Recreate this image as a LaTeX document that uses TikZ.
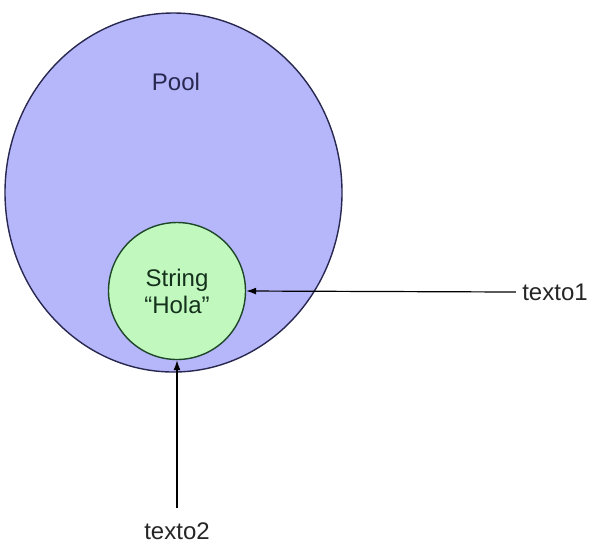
\documentclass[tikz,border=0pt]{standalone}
\usepackage{fontspec}
\setmainfont{Liberation Sans}
\usetikzlibrary{positioning}
\usetikzlibrary{arrows.meta}
\usetikzlibrary{shapes.geometric}
\definecolor{poolfill}{RGB}{182,182,250}
\definecolor{pooldraw}{RGB}{40,40,80}
\definecolor{strfill}{RGB}{192,248,190}
\definecolor{strdraw}{RGB}{30,70,40}

\begin{document}
\begin{tikzpicture}[
x=0.5pt, y=-0.5pt,
font=\fontsize{12}{13.5}\selectfont,
poolnode/.style={ellipse, draw=pooldraw, fill=poolfill, line width=0.7pt, minimum width=168.5pt, minimum height=179.5pt, inner sep=0pt},
roundnode/.style={circle, draw=strdraw, fill=strfill, line width=0.7pt, minimum size=68.5pt, inner sep=0pt, text=strdraw!70!black, align=center},
refnode/.style={text=black!85, inner sep=3pt},
]
\useasboundingbox (0,0) rectangle (592,543);
%Nodes
\node[poolnode] (pool) at (173.5,192.5) {};
\node[text=pooldraw] (poolname) at (176,82) {Pool};
\node[roundnode] (str) at (177,291) {String\\``Hola''};
\node[refnode] (texto1) at (555,292) {texto1};
\node[refnode, inner sep=7pt] (texto2) at (177,531) {texto2};

%Lines
\draw[-{Latex[length=5pt,width=3.5pt]}, line width=0.6pt] (texto1.west) -- (str.east);
\draw[-{Latex[length=5pt,width=3.5pt]}, line width=0.6pt] (texto2.north) -- (str.south);
\end{tikzpicture}
\end{document}
